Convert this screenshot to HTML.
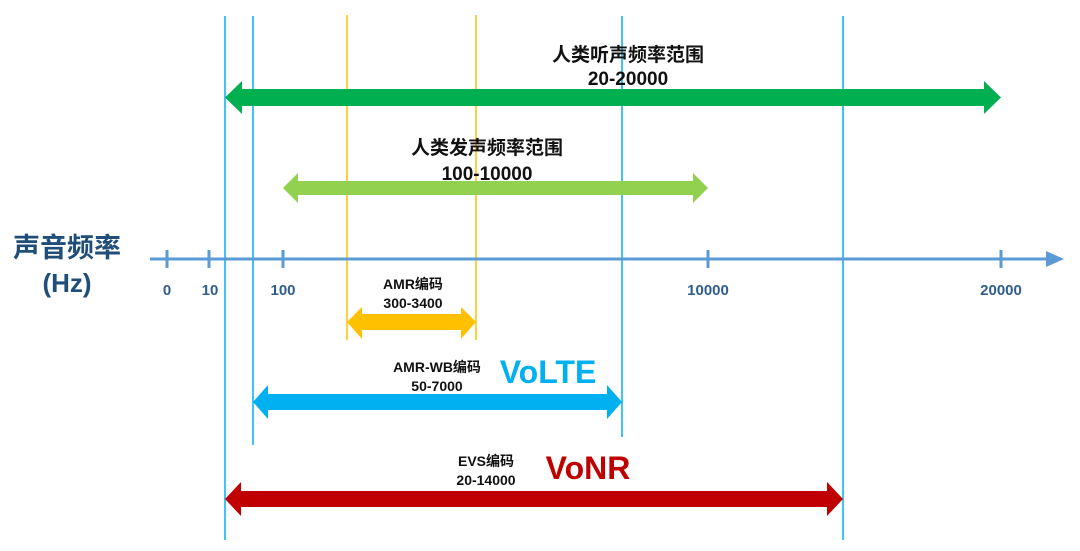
<!DOCTYPE html>
<html><head><meta charset="utf-8"><style>
body{margin:0;background:#fff;}
svg text{font-family:"Liberation Sans","Noto Sans CJK SC",sans-serif;font-weight:bold;}
</style></head><body>
<svg width="1080" height="546" viewBox="0 0 1080 546" xmlns="http://www.w3.org/2000/svg">
<rect width="1080" height="546" fill="#fff"/>
<g stroke="#00b0f0" stroke-width="1.5">
<line x1="225" y1="16" x2="225" y2="540"/>
<line x1="253" y1="16" x2="253" y2="445"/>
<line x1="622" y1="16" x2="622" y2="437"/>
<line x1="843" y1="16" x2="843" y2="540"/>
</g>
<g stroke="#ffc000" stroke-width="1.5">
<line x1="347" y1="15" x2="347" y2="340"/>
<line x1="476" y1="15" x2="476" y2="340"/>
</g>
<g stroke="#5b9bd5" stroke-width="3">
<line x1="150" y1="259" x2="1050" y2="259"/>
<line x1="167" y1="250" x2="167" y2="268"/>
<line x1="209" y1="250" x2="209" y2="268"/>
<line x1="283" y1="250" x2="283" y2="268"/>
<line x1="708" y1="250" x2="708" y2="268"/>
<line x1="1001" y1="250" x2="1001" y2="268"/>
</g>
<polygon points="1046,251 1064,259 1046,267" fill="#5b9bd5"/>
<g fill="#2f5e8e" font-size="15" text-anchor="middle">
<text x="167" y="295">0</text><text x="210" y="295">10</text><text x="283" y="295">100</text>
<text x="708" y="295">10000</text><text x="1001" y="295">20000</text>
</g>
<text x="67" y="257" fill="#1f4e79" font-size="27" text-anchor="middle">声音频率</text>
<text x="67" y="292" fill="#1f4e79" font-size="26" text-anchor="middle">(Hz)</text>
<polygon points="225,97.5 242,81 242,89 984,89 984,81 1001,97.5 984,114 984,106 242,106 242,114" fill="#00b050"/>
<polygon points="283,188 298,173 298,181 693,181 693,173 708,188 693,203 693,195 298,195 298,203" fill="#92d050"/>
<polygon points="347,322 362,307 362,314 461,314 461,307 476,322 461,339 461,330 362,330 362,339" fill="#ffc000"/>
<polygon points="253,402 268,385 268,394 607,394 607,385 622,402 607,419 607,410 268,410 268,419" fill="#00b0f0"/>
<polygon points="225,499 241,482 241,491 827,491 827,482 843,499 827,516 827,507 241,507 241,516" fill="#c00000"/>
<g fill="#111" text-anchor="middle">
<text x="628" y="61" font-size="19">人类听声频率范围</text>
<text x="628" y="85" font-size="19">20-20000</text>
<text x="487" y="154" font-size="19">人类发声频率范围</text>
<text x="487" y="180" font-size="19">100-10000</text>
<text x="413" y="289" font-size="14">AMR编码</text>
<text x="413" y="308" font-size="14">300-3400</text>
<text x="437" y="372" font-size="14">AMR-WB编码</text>
<text x="437" y="391" font-size="14">50-7000</text>
<text x="486" y="466" font-size="14">EVS编码</text>
<text x="486" y="485" font-size="14">20-14000</text>
</g>
<text x="548" y="383" fill="#00b0f0" font-size="32" text-anchor="middle">VoLTE</text>
<text x="588" y="479" fill="#c00000" font-size="32" text-anchor="middle">VoNR</text>
</svg>
</body></html>
